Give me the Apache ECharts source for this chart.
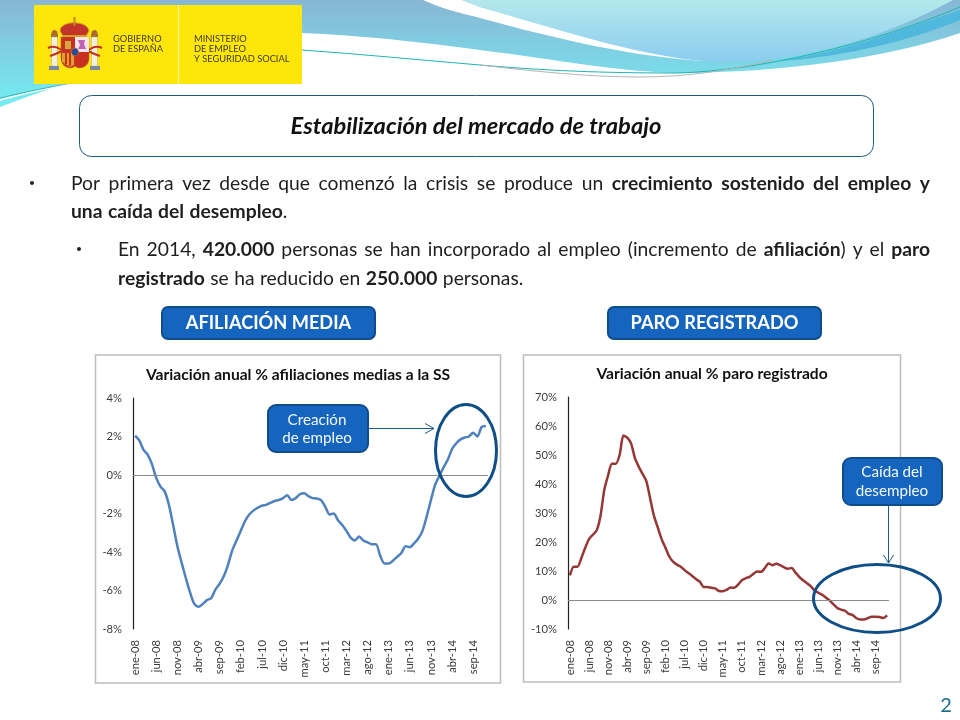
<!DOCTYPE html>
<html><head><meta charset="utf-8">
<style>html,body{margin:0;padding:0;background:#fff}#c{width:960px;height:720px}</style>
<script src="https://cdn.jsdelivr.net/npm/echarts@6/dist/echarts.min.js"></script>
</head><body><div id="c"></div>
<script>
const categories = [
'ene-08','feb-08','mar-08','abr-08','may-08','jun-08','jul-08','ago-08','sep-08','oct-08','nov-08','dic-08',
'ene-09','feb-09','mar-09','abr-09','may-09','jun-09','jul-09','ago-09','sep-09','oct-09','nov-09','dic-09',
'ene-10','feb-10','mar-10','abr-10','may-10','jun-10','jul-10','ago-10','sep-10','oct-10','nov-10','dic-10',
'ene-11','feb-11','mar-11','abr-11','may-11','jun-11','jul-11','ago-11','sep-11','oct-11','nov-11','dic-11',
'ene-12','feb-12','mar-12','abr-12','may-12','jun-12','jul-12','ago-12','sep-12','oct-12','nov-12','dic-12',
'ene-13','feb-13','mar-13','abr-13','may-13','jun-13','jul-13','ago-13','sep-13','oct-13','nov-13','dic-13',
'ene-14','feb-14','mar-14','abr-14','may-14','jun-14','jul-14','ago-14','sep-14','oct-14','nov-14','dic-14'];
const afiliacion = [
2.04,1.8,1.3,1.05,0.55,-0.15,-0.6,-0.85,-1.55,-2.6,-3.7,-4.55,
-5.35,-6.1,-6.7,-6.85,-6.7,-6.5,-6.4,-5.95,-5.65,-5.25,-4.65,-3.9,
-3.4,-2.9,-2.4,-2.05,-1.85,-1.7,-1.6,-1.55,-1.45,-1.35,-1.3,-1.2,
-1.05,-1.3,-1.2,-1.0,-0.95,-1.1,-1.2,-1.22,-1.3,-1.65,-2.05,-2.0,
-2.35,-2.6,-2.9,-3.25,-3.4,-3.2,-3.4,-3.5,-3.6,-3.6,-4.2,-4.6,
-4.6,-4.45,-4.25,-4.05,-3.7,-3.75,-3.55,-3.3,-2.9,-2.15,-1.3,-0.5,
-0.05,0.4,0.8,1.35,1.65,1.85,1.95,2.0,2.2,2.0,2.5,2.55];
const paro = [
8.5,11.5,11.5,14.5,18,21,22.5,24,29,38,43,47,
47,50,56.7,56,54,49,46,43.5,41,35,29,25,
21,18,15,13.2,12.2,11.5,10.3,9.3,8.3,7.2,6.3,4.5,
4.5,4.2,4,3.1,3,3.5,4.3,4.2,5.3,6.8,7.5,8,
9,9.8,9.7,11,12.6,12,12.5,12,11.3,10.8,11,9.5,
8,6.8,5.8,4.8,3.3,2.5,1.8,0.8,-0.2,-1.5,-2.8,-3.3,
-3.7,-4.8,-5.2,-6.3,-6.7,-6.7,-6.2,-5.8,-5.8,-5.9,-6.2,-5.3];
const textLines = [
  {x:71, y:190, justify:true,  s:'Por primera vez desde que comenzó la crisis se produce un **crecimiento sostenido del empleo y**'},
  {x:71, y:218, justify:false, s:'**una caída del desempleo**.'},
  {x:118,y:256, justify:true,  s:'En 2014, **420.000** personas se han incorporado al empleo (incremento de **afiliación**) y el **paro**'},
  {x:118,y:285, justify:false, s:'**registrado** se ha reducido en **250.000** personas.'}
];
const FONT = 'Lato, Carlito, sans-serif';
const TXT = 19.3, RIGHT = 930;
const ctx = document.createElement('canvas').getContext('2d');
const fnt = b => (b?'bold ':'') + TXT + 'px ' + FONT;
const measure = (t,b) => { ctx.font = fnt(b); return ctx.measureText(t).width; };

function layoutLine(l){
  const out = [], words = [];
  let bold = false;
  l.s.split(' ').forEach(w => {
    const parts = [];
    w.split('**').forEach((p,i) => { if(i>0) bold = !bold; if(p) parts.push({t:p,b:bold}); });
    words.push(parts);
  });
  const ww = words.map(p => p.reduce((a,q)=>a+measure(q.t,q.b),0));
  const sum = ww.reduce((a,b)=>a+b,0);
  const gap = l.justify ? (RIGHT-l.x-sum)/(words.length-1) : measure(' ',false)+0.5;
  let x = l.x;
  words.forEach((parts,i) => {
    let px = x;
    parts.forEach(q => {
      out.push({type:'text',z:5,silent:true,style:{x:px,y:l.y-6,text:q.t,fill:'#1f1f1f',font:fnt(q.b),verticalAlign:'middle'}});
      px += measure(q.t,q.b);
    });
    x += ww[i]+gap;
  });
  return out;
}
const grad = (a,b) => new echarts.graphic.LinearGradient(0,0,0,1,[{offset:0,color:a},{offset:1,color:b}]);
let pathCount = 0;
function rawPath(d,style,z){
  const name = 'wavePath'+(pathCount++);
  echarts.graphic.registerShape(name, echarts.graphic.extendPath(d,{}));
  return {type:name,z:z,silent:true,style:style};
}
function rect(x,y,w,h,r,style,z){ return {type:'rect',z:z,silent:true,shape:{x,y,width:w,height:h,r},style}; }
function label(x,y,t,font,fill,z,align){ return {type:'text',z:z,silent:true,style:{x,y,text:t,font,fill,align:align||'center',verticalAlign:'middle'}}; }
function ell(cx,cy,rx,ry,style,z){ return {type:'ellipse',z:z,silent:true,shape:{cx,cy,rx,ry},style}; }
function line(x1,y1,x2,y2,stroke,w,z){ return {type:'line',z:z,silent:true,shape:{x1,y1,x2,y2},style:{stroke,lineWidth:w}}; }

const BLUE='#1565BE', DARK='#0F4C8C', RING='#0F4E86';
const g = [];
// header waves
g.push(rawPath('M0,0 L960,0 L960,33 C880,60 780,72 680,73 C620,72 560,60 480,50 C420,42 360,35 302,33 C200,33 100,70 0,107 Z',{fill:grad('#88b6d4','#74eef2')},-5));
g.push(rawPath('M423,0 C440,8 460,13 480,18 C560,40 640,58 707,61 C640,52 560,28 480,7 L462,0 Z',{fill:'#fff'},-4));
g.push(rawPath('M462,0 L953,0 C880,40 800,62 720,62 C650,60 560,30 480,7 Z',{fill:grad('#b4e8ec','#8bcdf0')},-4));
g.push(rawPath('M960,10 L960,20 C900,45 830,58 780,61 C850,50 900,30 960,10 Z',{fill:'#4fb8dc'},-3));
g.push(rawPath('M302,50 C360,54 420,60 480,65 C560,72 620,73 680,73 C760,70 870,45 960,7',{fill:'none',stroke:'#1db5b5',lineWidth:1},-3));
g.push(rawPath('M480,65 C540,72 590,77 640,77 C690,77 730,70 773,60',{fill:'none',stroke:'#b5b5b5',lineWidth:1},-3));
g.push(rawPath('M0,100 C25,93 50,88 72,83',{fill:'none',stroke:'#fff',lineWidth:1.5},-3));
g.push(rawPath('M0,98 C25,92 50,87 72,83',{fill:'none',stroke:'#22aaaa',lineWidth:0.8},-3));
// logo
g.push(rect(34,5,268,79,0,{fill:'#FFE60A'},1));
g.push(line(178.5,5,178.5,84,'#fff3a0',1.2,2));
const logoF='9.3px '+FONT, logoC='#3f3d1c';
g.push(label(113,39,'GOBIERNO',logoF,logoC,3,'left'),label(113,49,'DE ESPAÑA',logoF,logoC,3,'left'));
g.push(label(194,39,'MINISTERIO',logoF,logoC,3,'left'),label(194,49,'DE EMPLEO',logoF,logoC,3,'left'),label(194,59,'Y SEGURIDAD SOCIAL',logoF,logoC,3,'left'));
// crest
g.push(rect(51,34,7,3,0,{fill:'#a0702a'},2),rect(91,34,7,3,0,{fill:'#a0702a'},2));
g.push(ell(54.5,33,3,3,{fill:'#b06a30'},2),ell(94.5,33,3,3,{fill:'#b06a30'},2));
g.push(rect(51.5,37,6,29,0,{fill:'#f4efdc',stroke:'#b9ad7a',lineWidth:.5},2),rect(91.5,37,6,29,0,{fill:'#f4efdc',stroke:'#b9ad7a',lineWidth:.5},2));
g.push(rect(49,66,10,4,0,{fill:'#7c8aa0'},2),rect(90,66,10,4,0,{fill:'#7c8aa0'},2));
g.push(rawPath('M48,48 C56,44 60,50 62,50 M50,56 C56,54 60,52 62,51',{fill:'none',stroke:'#c2301f',lineWidth:2},3));
g.push(rawPath('M102,48 C94,44 90,50 88,50 M100,56 C94,54 90,52 88,51',{fill:'none',stroke:'#c2301f',lineWidth:2},3));
g.push(rawPath('M60,31 C60,20 88,20 89,31 L86,36 L63,36 Z',{fill:'#c2332a',stroke:'#d8a020',lineWidth:1},3));
g.push(rect(73.5,17,2,9,0,{fill:'#c08a20'},4));
g.push(rect(63,35,23,2,0,{fill:'#d8a020'},4));
g.push(rawPath('M61,37 L89,37 L89,58 C89,68 78,70 75,66 C72,70 61,68 61,58 Z',{fill:'#c8301f',stroke:'#a06a40',lineWidth:.5},3));
g.push(rect(75,37,14,15,0,{fill:'#f3e4ea'},4));
g.push(rawPath('M78,40 L85,40 L84,44 L86,49 L78,49 L80,45 Z',{fill:'#c060b0'},5));
g.push(rect(65,41,6,8,0,{fill:'#d8a840'},4));
g.push(rawPath('M62,53 L74,53 L74,65 L70,67 L62,62 Z',{fill:'#e0a030'},4));
g.push(rect(65,53,2,11,0,{fill:'#c8301f'},5),rect(69,53,2,13,0,{fill:'#c8301f'},5));
g.push(ell(75,52,3.5,4,{fill:'#2b4a9a',stroke:'#c08a20',lineWidth:.6},6));
// title box
g.push(rect(79.5,95.5,794,61,12,{fill:'#fff',stroke:'#1c5c85',lineWidth:1},1));
g.push(label(476,126,'Estabilización del mercado de trabajo','italic bold 23.7px '+FONT,'#111',3));
// paragraphs
textLines.forEach(l => g.push(...layoutLine(l)));
g.push(ell(32,183,2,2,{fill:'#222'},5), ell(79,249,2,2,{fill:'#222'},5));
// section buttons
[[162,'AFILIACIÓN MEDIA'],[608,'PARO REGISTRADO']].forEach(b=>{
  g.push(rect(b[0],307,213,32,6,{fill:BLUE,stroke:DARK,lineWidth:2},3));
  g.push(label(b[0]+106.5,323.5,b[1],'bold 18.2px '+FONT,'#fff',4));
});
// chart frames
g.push(rect(95.5,355,405,328,0,{fill:'#fff',stroke:'#bdbdbd',lineWidth:1.5},-1));
g.push(rect(523.5,355,377,327,0,{fill:'#fff',stroke:'#bdbdbd',lineWidth:1.5},-1));
// annotation left
g.push(line(368,428.5,434,428.5,'#1c5c85',1,8));
g.push(rawPath('M425,423.5 L434,428.5 L425,433.5',{fill:'none',stroke:'#1c5c85',lineWidth:1},8));
g.push(ell(466,450.5,30.5,46,{fill:'none',stroke:RING,lineWidth:3},9));
g.push(rect(268,405,100,47,8,{fill:BLUE,stroke:DARK,lineWidth:2},10));
g.push(label(317,420,'Creación','15.2px '+FONT,'#f3f8ff',11),label(317,438,'de empleo','15.2px '+FONT,'#f3f8ff',11));
// annotation right
g.push(line(888.5,506,888.5,563,'#1c5c85',1,8));
g.push(rawPath('M883.5,555 L888.5,563 L893.5,555',{fill:'none',stroke:'#1c5c85',lineWidth:1},8));
g.push(ell(877,598.5,63.5,34,{fill:'none',stroke:RING,lineWidth:3},9));
g.push(rect(843,458,99,47,8,{fill:BLUE,stroke:DARK,lineWidth:2},10));
g.push(label(892,472,'Caída del','15.2px '+FONT,'#f3f8ff',11),label(892,491,'desempleo','15.2px '+FONT,'#f3f8ff',11));
// page number
g.push(label(946,706,'2','20px '+FONT,'#1f6d8f',3));

const axisFont = {fontFamily:FONT,fontSize:11.2,color:'#3c3c3c'};
const xAxis = i => ({type:'category',gridIndex:i,data:categories,boundaryGap:true,
  axisLine:{show:false,onZero:false},axisTick:{show:false},splitLine:{show:false},
  axisLabel:Object.assign({interval:4,rotate:90,margin:11},axisFont)});
const yAxis = (i,min,max,step) => ({type:'value',gridIndex:i,min,max,interval:step,
  axisLine:{show:true,lineStyle:{color:'#222',width:1.2}},axisTick:{show:false},splitLine:{show:false},
  axisLabel:Object.assign({formatter:'{value}%',margin:11},axisFont)});
const zero = () => ({silent:true,symbol:'none',label:{show:false},lineStyle:{color:'#8c8c8c',width:1.2,type:'solid',opacity:1},emphasis:{disabled:true},data:[{yAxis:0}],animation:false});
const serie = (i,data,color) => ({type:'line',xAxisIndex:i,yAxisIndex:i,data,showSymbol:false,symbol:'none',smooth:0.25,
  lineStyle:{color,width:2.5},markLine:zero(),animation:false});

const chart = echarts.init(document.getElementById('c'),null,{renderer:'canvas',width:960,height:720});
chart.setOption({
  animation:false,backgroundColor:'#fff',
  title:[
    {text:'Variación anual % afiliaciones medias a la SS',left:293,top:362,textAlign:'center',textStyle:{fontFamily:FONT,fontSize:15.6,fontWeight:'bold',color:'#111'}},
    {text:'Variación anual % paro registrado',left:707,top:361,textAlign:'center',textStyle:{fontFamily:FONT,fontSize:15.6,fontWeight:'bold',color:'#111'}}
  ],
  grid:[
    {left:133,top:398,width:355,height:231},
    {left:568,top:397,width:321,height:232}
  ],
  xAxis:[xAxis(0),xAxis(1)],
  yAxis:[yAxis(0,-8,4,2),yAxis(1,-10,70,10)],
  series:[serie(0,afiliacion,'#4F81BD'),serie(1,paro,'#953735')],
  graphic:{elements:g}
});
</script></body></html>
